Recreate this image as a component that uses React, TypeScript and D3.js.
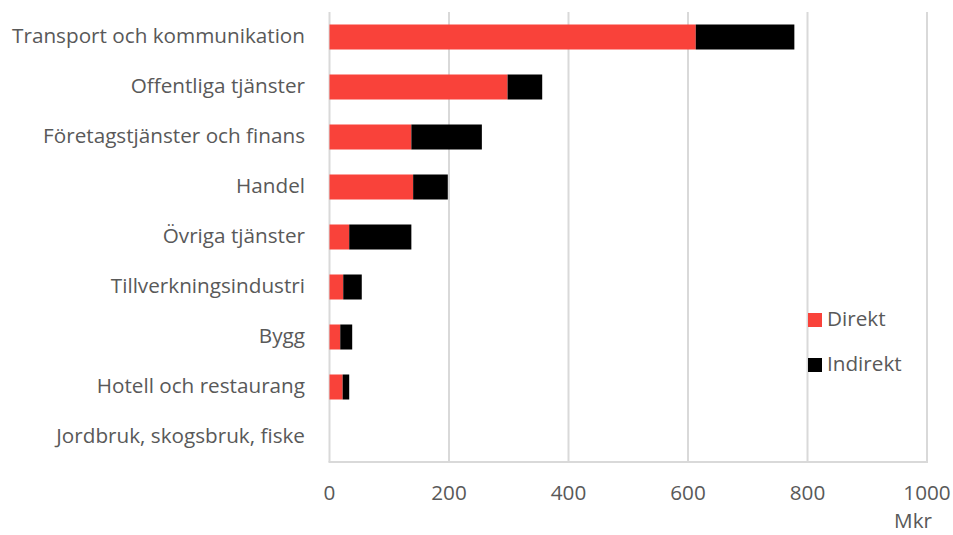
import React from "react";
import * as d3 from "d3";

const categories = [
  "Transport och kommunikation",
  "Offentliga tjänster",
  "Företagstjänster och finans",
  "Handel",
  "Övriga tjänster",
  "Tillverkningsindustri",
  "Bygg",
  "Hotell och restaurang",
  "Jordbruk, skogsbruk, fiske",
];
const direkt = [613, 298, 137, 140, 33, 23, 18, 22, 0];
const indirekt = [165, 58, 118, 58, 104, 31, 20, 11, 0];
const xTicks = [0, 200, 400, 600, 800, 1000];
const seriesNames = ["Direkt", "Indirekt"];
const seriesColors = ["#F9423A", "#000000"];

export default function App() {
  const W = 953, H = 535;
  const left = 329.5, right = 927, top = 12, bottom = 462;
  const x = d3.scaleLinear().domain([0, 1000]).range([left, right]);
  const y = d3.scaleBand<string>().domain(categories).range([top, bottom]).paddingInner(0.5).paddingOuter(0.25);
  const font = "'Open Sans', sans-serif";
  const fs = 20.7;
  const textColor = "#595959";
  return (
    <svg width={W} height={H} style={{ position: "absolute", left: 0, top: 0 }}>
      <rect width={W} height={H} fill="#fff" />
      {xTicks.map((t) => (
        <line key={t} x1={x(t)} x2={x(t)} y1={top} y2={bottom} stroke="#d9d9d9" strokeWidth={2} />
      ))}
      <line x1={left - 1} x2={right + 1} y1={bottom} y2={bottom} stroke="#d9d9d9" strokeWidth={2} />
      {categories.map((c, i) => {
        const y0 = y(c)!;
        const h = y.bandwidth();
        return (
          <g key={c}>
            {direkt[i] > 0 && (
              <rect x={x(0)} y={y0} width={x(direkt[i]) - x(0)} height={h} fill={seriesColors[0]} />
            )}
            {indirekt[i] > 0 && (
              <rect x={x(direkt[i])} y={y0} width={x(direkt[i] + indirekt[i]) - x(direkt[i])} height={h} fill={seriesColors[1]} />
            )}
            <text x={305} y={y0 + h / 2 + 5.5} textAnchor="end" fontFamily={font} fontSize={fs} fill={textColor}>
              {c}
            </text>
          </g>
        );
      })}
      {xTicks.map((t) => (
        <text key={t} x={x(t)} y={500} textAnchor="middle" fontFamily={font} fontSize={fs} fill={textColor}>
          {t}
        </text>
      ))}
      <text x={932} y={528} textAnchor="end" fontFamily={font} fontSize={fs} fill={textColor}>Mkr</text>
      {seriesNames.map((s, i) => (
        <g key={s}>
          <rect x={808} y={313 + i * 45} width={14} height={14} fill={seriesColors[i]} />
          <text x={827} y={320 + i * 45 + 5.5} fontFamily={font} fontSize={fs} fill={textColor}>{s}</text>
        </g>
      ))}
    </svg>
  );
}
